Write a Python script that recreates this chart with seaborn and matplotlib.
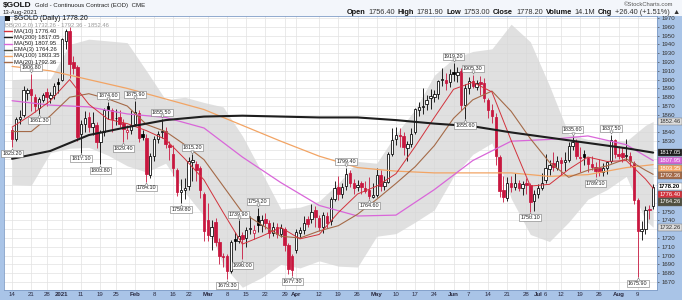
import numpy as np
import pandas as pd
import matplotlib
matplotlib.use("Agg")
import matplotlib.pyplot as plt
import seaborn as sns
from matplotlib.lines import Line2D
from matplotlib.patches import Rectangle
from matplotlib.transforms import offset_copy

sns.set_style("white")
plt.rcParams['font.family'] = ['Liberation Sans', 'DejaVu Sans']

# ---------------- data ----------------
session_start = "2020-12-14"
session_end = "2021-08-13"
market_holidays = ["2020-12-25", "2021-01-01", "2021-01-18", "2021-02-15",
                   "2021-04-02", "2021-05-31", "2021-07-05"]

opens = [
    # Dec
    1843, 1833, 1855, 1860, 1885, 1889, 1880, 1868, 1877, 1886, 1879, 1882, 1897,
    # Jan
    1900, 1944, 1955, 1920, 1914, 1838, 1850, 1857, 1846, 1848, 1829, 1840, 1870, 1865, 1856, 1857, 1851, 1841, 1843,
    # Feb
    1850, 1862, 1838, 1834, 1792, 1813, 1832, 1840, 1842, 1826, 1815, 1797, 1772, 1775, 1779, 1806, 1804, 1800, 1770,
    # Mar
    1740, 1722, 1738, 1715, 1699, 1699, 1683, 1719, 1717, 1723, 1720, 1730, 1726, 1745, 1735, 1742, 1737, 1726, 1733, 1725, 1730, 1712, 1699,
    # Apr
    1706, 1726, 1729, 1742, 1742, 1752, 1743, 1733, 1745, 1739, 1764, 1778, 1770, 1779, 1794, 1783, 1778, 1782, 1777, 1774, 1767,
    # May
    1769, 1792, 1779, 1784, 1816, 1832, 1837, 1836, 1822, 1827, 1841, 1866, 1869, 1872, 1879, 1880, 1884, 1899, 1900, 1897,
    # Jun
    1909, 1905, 1910, 1871, 1890, 1898, 1892, 1897, 1896, 1877, 1866, 1858, 1812, 1774, 1765, 1782, 1778, 1782, 1777, 1782, 1780, 1762,
    # Jul
    1770, 1777, 1786, 1798, 1805, 1800, 1809, 1806, 1809, 1825, 1829, 1812, 1815, 1811, 1804, 1801, 1799, 1795, 1799, 1808, 1831,
    # Aug
    1816, 1817, 1813, 1813, 1805, 1763, 1728, 1730, 1753, 1756.4,
]
highs = [
    1846, 1857, 1866, 1893, 1891, 1906.8, 1884, 1880, 1885, 1891, 1886, 1896, 1902,
    1947, 1957, 1959.7, 1927, 1917, 1854, 1864, 1863, 1863, 1852, 1843, 1868, 1874.6, 1868, 1867, 1866, 1855, 1848, 1866,
    1875.9, 1865, 1843, 1838, 1817, 1836, 1842, 1855.5, 1846, 1830, 1826, 1800, 1787, 1788, 1812, 1815.2, 1808, 1802, 1772,
    1760, 1740, 1743, 1720, 1703, 1702, 1718, 1727, 1739.9, 1727, 1732, 1745, 1735, 1754.2, 1746, 1748, 1740, 1738, 1737, 1736, 1733, 1714, 1702,
    1730, 1732, 1745, 1745, 1759, 1756, 1746, 1750, 1749, 1767, 1785, 1790, 1782, 1799.4, 1797, 1787, 1786, 1785, 1785, 1789, 1782,
    1799, 1797, 1790, 1818, 1845, 1846, 1845, 1840, 1830, 1845, 1868, 1874, 1891, 1883, 1889, 1888, 1900, 1913, 1908, 1912,
    1919.2, 1914, 1913, 1895, 1903, 1905.3, 1900, 1904, 1902, 1879, 1872, 1862, 1814, 1790, 1789, 1791, 1794, 1786, 1785, 1788, 1783, 1774,
    1781, 1794, 1815, 1809, 1818, 1813, 1812, 1818, 1829, 1835.6, 1832, 1823, 1820, 1812, 1813, 1806, 1810, 1805, 1807, 1837.5, 1832,
    1824, 1823, 1833, 1818, 1808, 1765, 1739, 1756, 1757, 1781.9,
]
lows = [
    1823.2, 1830, 1849, 1858, 1877, 1864, 1863, 1861.3, 1874, 1870, 1873, 1878, 1885,
    1898, 1935, 1902, 1906, 1830, 1817.1, 1841, 1840, 1837, 1822, 1803.8, 1836, 1855, 1841, 1848, 1846, 1829.4, 1832, 1838,
    1847, 1829, 1831, 1784.1, 1788, 1807, 1828, 1834, 1822, 1809, 1790, 1768, 1759.8, 1764, 1775, 1785, 1785, 1765, 1717,
    1717, 1706, 1711, 1691, 1687, 1673.3, 1680, 1706, 1714, 1696, 1710, 1725, 1719, 1727, 1727, 1730, 1720, 1722, 1720, 1721, 1705, 1679, 1677.3,
    1703, 1720, 1725, 1732, 1737, 1732, 1728, 1726, 1731, 1735, 1762, 1763, 1765, 1775, 1778, 1770, 1773, 1770, 1771, 1764.6, 1765,
    1767, 1773, 1775, 1782, 1813, 1826, 1823, 1814, 1808, 1823, 1838, 1859, 1861, 1865, 1867, 1874, 1878, 1893, 1888, 1892,
    1898, 1897, 1866, 1855.6, 1884, 1891, 1888, 1882, 1875, 1856, 1851, 1803, 1767, 1761, 1762, 1772, 1775, 1773, 1769, 1770, 1750.1, 1751,
    1766, 1774, 1783, 1792, 1796, 1797, 1792, 1796, 1806, 1820, 1810, 1795, 1803, 1795, 1797, 1789.1, 1790, 1791, 1793, 1805, 1811,
    1810, 1806, 1809, 1801, 1759, 1675.9, 1718, 1725, 1742, 1753,
]
closes = [
    1832, 1855, 1858, 1888, 1888, 1882, 1870, 1878, 1883, 1880, 1882, 1893, 1895,
    1946, 1955, 1918, 1913, 1835, 1850, 1856, 1846, 1851, 1829, 1840, 1866, 1867, 1855, 1856, 1850, 1844, 1843, 1848,
    1863, 1834, 1835, 1793, 1813, 1832, 1838, 1842, 1827, 1823, 1799, 1772, 1775, 1777, 1808, 1809, 1797, 1775, 1728,
    1723, 1733, 1715, 1700, 1698, 1683, 1716, 1717, 1722, 1719, 1729, 1731, 1729, 1735, 1741, 1737, 1726, 1732, 1725, 1731, 1712, 1685, 1684,
    1727, 1729, 1737, 1736, 1750, 1744, 1733, 1746, 1737, 1764, 1777, 1770, 1778, 1793, 1782, 1777, 1780, 1778, 1773, 1768, 1769,
    1792, 1779, 1784, 1815, 1831, 1837, 1836, 1823, 1827, 1838, 1867, 1869, 1870, 1877, 1881, 1884, 1898, 1901, 1896, 1906,
    1906, 1909, 1871, 1891, 1898, 1893, 1896, 1895, 1879, 1866, 1859, 1813, 1773, 1767, 1782, 1778, 1782, 1777, 1781, 1780, 1761, 1770,
    1777, 1783, 1800, 1803, 1801, 1808, 1805, 1809, 1824, 1829, 1813, 1811, 1812, 1804, 1801, 1796, 1795, 1799, 1806, 1831, 1816,
    1813, 1812, 1814, 1808, 1763, 1728, 1730, 1752, 1751.8, 1778.2,
]

ma10_vals = [1846, 1860, 1876, 1900, 1872, 1855, 1850, 1842, 1832, 1810, 1786, 1749, 1713, 1722, 1732, 1719, 1724, 1749,
             1770, 1779, 1793, 1824, 1857, 1889, 1897, 1886, 1831, 1779, 1781, 1798, 1812, 1807, 1808, 1787, 1776.4]
ma20_vals = [1841, 1841, 1859, 1880, 1884, 1878, 1870, 1849, 1841, 1826, 1809, 1779, 1749, 1735, 1722, 1720, 1728, 1734,
             1747, 1764, 1782, 1801, 1825, 1856, 1877, 1887, 1864, 1833, 1806, 1789, 1797, 1802, 1810, 1797, 1792.36]
bb_upper = [1900, 1901, 1901, 1940, 1946, 1944, 1942, 1910, 1877, 1880, 1874, 1869, 1836, 1795, 1753, 1755, 1762, 1782,
            1807, 1805, 1838, 1866, 1905, 1924, 1932, 1935, 1963, 1943, 1893, 1838, 1832, 1831, 1830, 1848, 1852.46]
bb_lower = [1781, 1780, 1817, 1822, 1823, 1814, 1802, 1795, 1805, 1772, 1745, 1689, 1664, 1675, 1690, 1686, 1694, 1688,
            1687, 1722, 1725, 1738, 1752, 1790, 1815, 1828, 1765, 1724, 1716, 1738, 1764, 1775, 1790, 1740, 1732.26]
ma50_vals = [1876, 1871, 1869, 1861, 1857, 1845, 1812, 1783, 1757, 1745, 1746, 1775, 1808, 1830, 1832, 1836, 1826, 1807.95]
ma100_vals = [1915, 1910, 1900, 1890, 1878, 1866, 1848, 1830, 1813, 1800, 1796, 1794, 1794, 1794, 1790, 1792, 1800, 1803.35]
ma200_vals = [1810, 1819, 1837, 1846, 1854, 1858, 1859, 1858, 1857, 1857, 1854, 1850, 1847, 1840, 1834, 1828, 1822, 1817.05]

tick_dates = ["2020-12-14", "2020-12-21", "2020-12-28", "2021-01-04", "2021-01-11", "2021-01-19", "2021-01-25",
              "2021-02-01", "2021-02-08", "2021-02-16", "2021-02-22", "2021-03-01", "2021-03-08", "2021-03-15",
              "2021-03-22", "2021-03-29", "2021-04-01", "2021-04-12", "2021-04-19", "2021-04-26", "2021-05-03",
              "2021-05-10", "2021-05-17", "2021-05-24", "2021-06-01", "2021-06-07", "2021-06-14", "2021-06-21",
              "2021-06-28", "2021-07-01", "2021-07-06", "2021-07-12", "2021-07-19", "2021-07-26", "2021-08-02",
              "2021-08-09"]
tick_labels = ["14", "21", "28", "2021", "11", "19", "25", "Feb", "8", "16", "22", "Mar", "8", "15", "22", "29",
               "Apr", "12", "19", "26", "May", "10", "17", "24", "Jun", "7", "14", "21", "28", "Jul", "6", "12",
               "19", "26", "Aug", "9"]

label_dates = ["2020-12-14", "2020-12-21", "2020-12-23", "2021-01-11", "2021-01-19", "2021-01-21", "2021-01-27",
               "2021-02-01", "2021-02-04", "2021-02-10", "2021-02-18", "2021-02-23", "2021-03-08", "2021-03-11",
               "2021-03-12", "2021-03-18", "2021-03-31", "2021-04-21", "2021-04-29", "2021-06-01", "2021-06-04",
               "2021-06-08", "2021-06-29", "2021-07-15", "2021-07-23", "2021-07-29", "2021-08-09"]
label_values = [1823.20, 1906.80, 1861.30, 1817.10, 1803.80, 1874.60, 1829.40, 1875.90, 1784.10, 1855.50, 1759.80,
                1815.20, 1673.30, 1739.90, 1696.00, 1754.20, 1677.30, 1799.40, 1764.60, 1919.20, 1855.60, 1905.30,
                1750.10, 1835.60, 1789.10, 1837.50, 1675.90]
label_sides = ["low", "high", "low", "low", "low", "high", "low", "high", "low", "high", "low", "high", "low",
               "high", "low", "high", "low", "high", "low", "high", "low", "high", "low", "high", "low", "high", "low"]

legend_names = ["MA(10)", "MA(200)", "MA(50)", "EMA(3)", "MA(100)", "MA(20)"]
legend_values = [1776.40, 1817.05, 1807.95, 1764.26, 1803.35, 1792.36]
last_close = 1778.20
bb_text = "BB(20,2.0) 1732.26 - 1792.36 - 1852.46"

tag_values = [1852.46, 1817.05, 1807.95, 1803.35, 1792.36, 1778.20, 1776.40, 1764.26, 1732.26]

# ---------------- styling ----------------
W, H = 682, 300
FRAME = "#a9c4e7"
RED = "#c8173f"
C_MA10 = "#d2323c"
C_MA20 = "#a46a48"
C_MA50 = "#d966d9"
C_MA100 = "#f2a464"
C_MA200 = "#1e1e1e"
C_EMA = "#505040"
tag_style = [("#dcdcdc", "#333333"), (C_MA200, "white"), (C_MA50, "white"), (C_MA100, "white"),
             (C_MA20, "white"), ("white", "black"), (C_MA10, "white"), (C_EMA, "white"), ("#dcdcdc", "#333333")]

hol = set(pd.to_datetime(market_holidays))
session_dates = [d for d in pd.bdate_range(session_start, session_end) if d not in hol]
assert len(session_dates) == len(closes) == len(opens) == len(highs) == len(lows)
pos = {d: i for i, d in enumerate(session_dates)}
xs = np.arange(len(closes))

fast_x = list(xs[::5]) + [xs[-1]]
slow_x = list(xs[::10]) + [xs[-1]]

fig = plt.figure(figsize=(W / 100, H / 100), dpi=100, facecolor=FRAME)
fig.patches.append(Rectangle((0, 1 - 15.5 / H), 1, 15.5 / H, transform=fig.transFigure,
                             facecolor="#f3f6fb", edgecolor="none", zorder=0))
ax = fig.add_axes([4 / W, 10 / H, 653 / W, 274 / H])
ax.set_facecolor("white")

# Bollinger band
ax.fill_between(fast_x, bb_lower, bb_upper, color="#d6d6d6", alpha=0.75, lw=0, zorder=1)

# moving averages
line_specs = [(slow_x, ma100_vals, C_MA100, 0.9), (slow_x, ma50_vals, C_MA50, 0.9),
              (fast_x, ma20_vals, C_MA20, 0.8), (fast_x, ma10_vals, C_MA10, 0.7),
              (slow_x, ma200_vals, C_MA200, 1.5)]
for lx, ly, c, lw in line_specs:
    sns.lineplot(x=lx, y=ly, ax=ax, color=c, lw=lw, zorder=6, legend=False, estimator=None, sort=False)

# candles
o = np.array(opens); h = np.array(highs); l = np.array(lows); c = np.array(closes)
prev = np.concatenate([[o[0]], c[:-1]])
up = c >= prev
filled = c < o
edge = np.where(up, "black", RED)
face = np.where(filled, edge, "white")
ax.vlines(xs, l, h, colors=edge, lw=0.6, zorder=4)
body_lo = np.minimum(o, c)
body_h = np.maximum(np.abs(c - o), 0.8)
ax.bar(xs, body_h, bottom=body_lo, width=0.62, color=face, edgecolor=edge, linewidth=0.55, zorder=5)

# price labels
for d, v, side in zip(label_dates, label_values, label_sides):
    i = pos[pd.Timestamp(d)]
    if side == "low":
        off, va, mk, dy = -2.8, "top", "^", -1.9
    else:
        off, va, mk, dy = 2.8, "bottom", "v", 1.9
    ax.annotate(f"{v:.2f}", xy=(i, v), xytext=(0, off), textcoords="offset points", ha="center", va=va,
                fontsize=3.9, color="#222222", zorder=9,
                bbox=dict(boxstyle="square,pad=0.18", fc="white", ec="#777777", lw=0.4))
    tr = offset_copy(ax.transData, fig=fig, x=0, y=dy, units="points")
    ax.plot([i], [v], marker=mk, ms=2.4, mfc="white", mec="#777777", mew=0.4, transform=tr, zorder=10)

# axes
ax.set_xlim(-2.1, 168.0)
ax.set_ylim(1660.9, 1972.3)
yt = np.arange(1670, 1971, 10)
ax.set_yticks(yt)
ax.yaxis.tick_right()
ax.tick_params(axis="y", length=1.5, width=0.4, pad=1.5, labelsize=4.4, colors="#333333")
tick_pos = [pos[pd.Timestamp(d)] for d in tick_dates]
ax.set_xticks(tick_pos)
ax.set_xticklabels(tick_labels)
ax.tick_params(axis="x", length=0, pad=1.6, labelsize=4.4, colors="#2a2a40")
for t in ax.get_xticklabels():
    if not t.get_text().isdigit() or t.get_text() == "2021":
        t.set_fontweight("bold")
ax.set_axisbelow(True)
ax.grid(True, axis="both", color="#e2e2e2", lw=0.5, zorder=0)
for s in ax.spines.values():
    s.set_color("#7f9cc6")
    s.set_linewidth(0.6)

# right-hand value tags (they sit over the scale and hide the tick labels beneath them)
order = np.argsort(tag_values)[::-1]
placed = []
min_gap = 7.6 / 0.88
for k in order:
    v = tag_values[k]
    y = v if not placed else min(v, placed[-1] - min_gap)
    placed.append(y)
    bg, fg = tag_style[k]
    ax.annotate(f"{v:.2f}", xy=(1.0, y), xycoords=("axes fraction", "data"), xytext=(1.5, 0),
                textcoords="offset points", ha="left", va="center", fontsize=4.2, color=fg,
                fontweight="bold" if v == last_close else "normal", annotation_clip=False, zorder=12,
                bbox=dict(boxstyle="square,pad=0.2", fc=bg, ec="#666666", lw=0.3))
for val, t in zip(yt, ax.get_yticklabels()):
    if any(abs(val - p) < 7.5 for p in placed):
        t.set_visible(False)

# legend (top-left)
def fxy(px, py):
    return px / W, 1 - py / H

rows_y = [18.8, 25.0, 31.2, 37.4, 43.6, 49.8, 56.0, 62.2]
fig.text(*fxy(13.5, rows_y[0]), f"$GOLD (Daily) {last_close:.2f}", fontsize=5.0, va="center", color="#111111")
fig.add_artist(Rectangle(fxy(5, rows_y[0] + 2.5), 5 / W, 5 / H, transform=fig.transFigure, fc="#111111", ec="none"))
fig.text(*fxy(5, rows_y[1]), bb_text, fontsize=4.2, va="center", color="#9a9a9a")
legend_colors = [C_MA10, C_MA200, C_MA50, C_EMA, C_MA100, C_MA20]
for ry, name, val, col in zip(rows_y[2:], legend_names, legend_values, legend_colors):
    fig.add_artist(Line2D([4 / W, 12 / W], [1 - ry / H] * 2, transform=fig.transFigure, color=col, lw=1.0))
    fig.text(*fxy(13.5, ry), f"{name} {val:.2f}", fontsize=4.2, va="center", color="#222222")

# header
renderer = fig.canvas.get_renderer()
t_sym = fig.text(*fxy(3, 5.5), "$GOLD", fontsize=6.0, fontweight="bold", va="center", color="#111111")
sym_w = t_sym.get_window_extent(renderer).width
fig.text(*fxy(3 + sym_w + 3, 5.5), "Gold - Continuous Contract (EOD)  CME", fontsize=4.4, va="center",
         color="#222222")
fig.text(*fxy(3, 12.3), "13-Aug-2021", fontsize=4.3, va="center", color="#222222")
fig.text(*fxy(673, 4.2), "\u00a9StockCharts.com", fontsize=4.2, va="center", ha="right", color="#555555")

runs = [("Open", True), ("1756.40", False), ("High", True), ("1781.90", False), ("Low", True),
        ("1753.00", False), ("Close", True), ("1778.20", False), ("Volume", True), ("14.1M", False),
        ("Chg", True), ("+26.40 (+1.51%)", False), ("\u25b2", False)]
hdr_size, gap = 5.3, 2.8
widths = []
for s, b in runs:
    tmp = fig.text(0, 0, s, fontsize=hdr_size, fontweight="bold" if b else "normal")
    widths.append(tmp.get_window_extent(renderer).width)
    tmp.remove()
xcur = 680 - (sum(widths) + gap * (len(runs) - 1))
for (s, b), wdt in zip(runs, widths):
    fig.text(*fxy(xcur, 12.3), s, fontsize=hdr_size, fontweight="bold" if b else "normal", va="center",
             color="#111111" if b else "#333333")
    xcur += wdt + gap

fig.savefig("out.png", dpi=100, facecolor=FRAME)
